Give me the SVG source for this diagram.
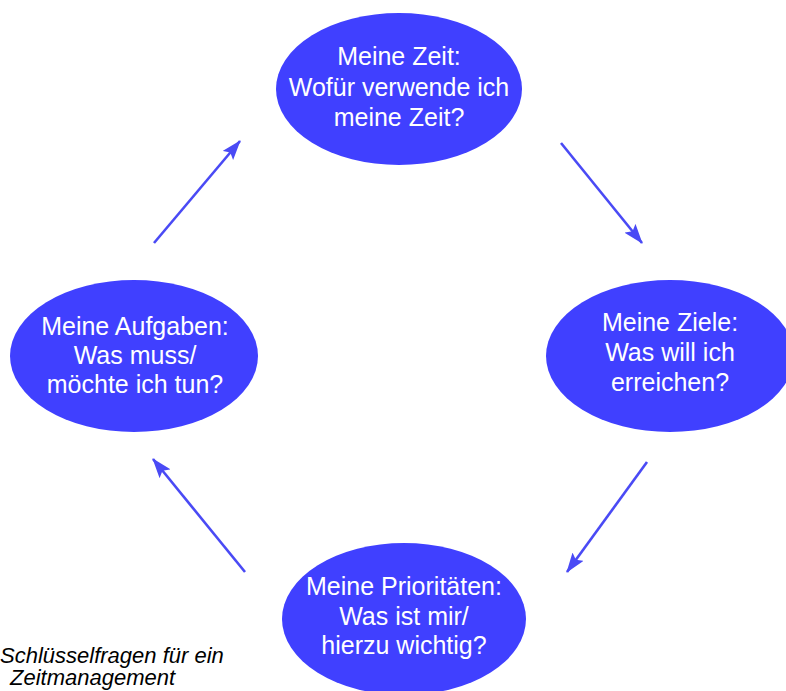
<svg xmlns="http://www.w3.org/2000/svg" width="786" height="691" viewBox="0 0 786 691">
<style>
.node{fill:#4040ff}
.lbl{font-family:"Liberation Sans",Arial,sans-serif;font-size:25px;fill:#ffffff;text-anchor:middle}
.conn{stroke:#4a4af5;stroke-width:2.6;fill:none;marker-end:url(#ah)}
.cap{font-family:"Liberation Sans",Arial,sans-serif;font-size:22px;font-style:italic;fill:#000000}
</style>
<defs>
<marker id="ah" viewBox="0 0 20 14" refX="19" refY="7" markerWidth="20" markerHeight="14" markerUnits="userSpaceOnUse" orient="auto">
<path d="M0,0 L20,7 L0,14 L4,7 Z" fill="#4a4af5"/>
</marker>
</defs>
<rect width="786" height="691" fill="#ffffff"/>
<g id="connectors">
<line class="conn" x1="561" y1="143" x2="642" y2="243"/>
<line class="conn" x1="647" y1="462" x2="567" y2="572"/>
<line class="conn" x1="245" y1="572" x2="153" y2="459"/>
<line class="conn" x1="154" y1="243" x2="240" y2="141"/>
</g>
<g id="node-zeit">
<ellipse class="node" cx="399" cy="89" rx="123" ry="76"/>
<text class="lbl" x="399" y="65">Meine Zeit:</text>
<text class="lbl" x="399" y="96">Wofür verwende ich</text>
<text class="lbl" x="399" y="126">meine Zeit?</text>
</g>
<g id="node-ziele">
<ellipse class="node" cx="670" cy="356" rx="124" ry="76"/>
<text class="lbl" x="670" y="331">Meine Ziele:</text>
<text class="lbl" x="670" y="361">Was will ich</text>
<text class="lbl" x="670" y="391">erreichen?</text>
</g>
<g id="node-prioritaeten">
<ellipse class="node" cx="404" cy="619" rx="122" ry="76"/>
<text class="lbl" x="404" y="595">Meine Prioritäten:</text>
<text class="lbl" x="404" y="625">Was ist mir/</text>
<text class="lbl" x="404" y="654">hierzu wichtig?</text>
</g>
<g id="node-aufgaben">
<ellipse class="node" cx="134" cy="356" rx="124" ry="76"/>
<text class="lbl" x="135" y="335">Meine Aufgaben:</text>
<text class="lbl" x="135" y="364">Was muss/</text>
<text class="lbl" x="135" y="393">möchte ich tun?</text>
</g>
<g id="caption">
<text class="cap" x="0" y="663">Schlüsselfragen für ein</text>
<text class="cap" x="10" y="685">Zeitmanagement</text>
</g>
</svg>
